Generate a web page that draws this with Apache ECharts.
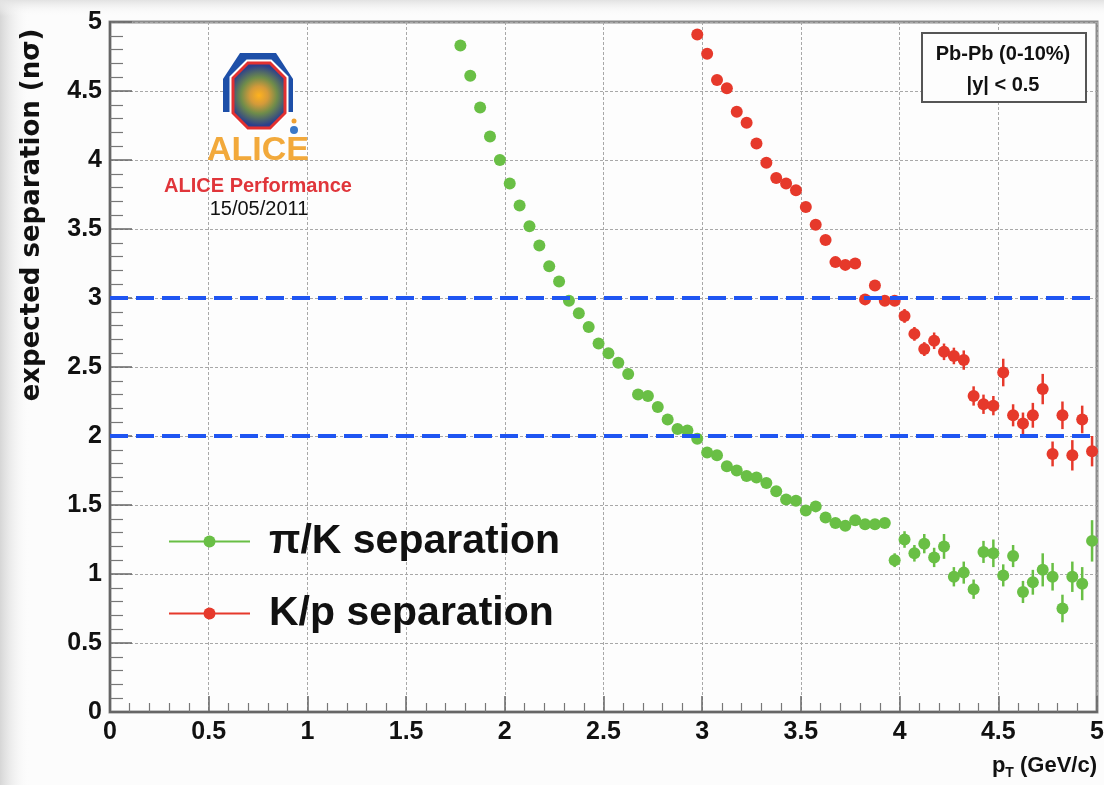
<!DOCTYPE html>
<html>
<head>
<meta charset="utf-8">
<title>expected separation</title>
<script src="https://cdn.jsdelivr.net/npm/echarts@6.0.0/dist/echarts.min.js"></script>
<style>
html, body { margin: 0; padding: 0; background: #fcfcfc; }
#chart { width: 1104px; height: 785px; }
</style>
</head>
<body>
<div id="chart"></div>
<script>
// pi/K separation (green)
var piK_pt = [1.775, 1.825, 1.875, 1.925, 1.975, 2.025, 2.075, 2.125, 2.175, 2.225,
    2.275, 2.325, 2.375, 2.425, 2.475, 2.525, 2.575, 2.625, 2.675, 2.725,
    2.775, 2.825, 2.875, 2.925, 2.975, 3.025, 3.075, 3.125, 3.175, 3.225,
    3.275, 3.325, 3.375, 3.425, 3.475, 3.525, 3.575, 3.625, 3.675, 3.725,
    3.775, 3.825, 3.875, 3.925, 3.975, 4.025, 4.075, 4.125, 4.175, 4.225,
    4.275, 4.325, 4.375, 4.425, 4.475, 4.525, 4.575, 4.625, 4.675, 4.725,
    4.775, 4.825, 4.875, 4.925, 4.975];
var piK_sep = [4.83, 4.61, 4.38, 4.17, 4.00, 3.83, 3.67, 3.52, 3.38, 3.23,
    3.12, 2.98, 2.89, 2.79, 2.67, 2.60, 2.53, 2.45, 2.30, 2.29,
    2.21, 2.12, 2.05, 2.04, 1.98, 1.88, 1.86, 1.78, 1.75, 1.71,
    1.70, 1.66, 1.60, 1.54, 1.53, 1.46, 1.49, 1.41, 1.37, 1.35,
    1.39, 1.36, 1.36, 1.37, 1.10, 1.25, 1.15, 1.22, 1.12, 1.20,
    0.98, 1.01, 0.89, 1.16, 1.15, 0.99, 1.13, 0.87, 0.94, 1.03,
    0.98, 0.75, 0.98, 0.93, 1.24];
var piK_err = [0.02, 0.02, 0.02, 0.02, 0.02, 0.02, 0.02, 0.02, 0.02, 0.02,
    0.02, 0.02, 0.02, 0.02, 0.02, 0.02, 0.02, 0.02, 0.02, 0.02,
    0.02, 0.02, 0.02, 0.02, 0.02, 0.02, 0.02, 0.02, 0.02, 0.02,
    0.03, 0.03, 0.03, 0.03, 0.03, 0.03, 0.03, 0.03, 0.03, 0.03,
    0.03, 0.03, 0.03, 0.03, 0.05, 0.06, 0.06, 0.07, 0.07, 0.09,
    0.07, 0.08, 0.07, 0.08, 0.10, 0.08, 0.08, 0.08, 0.09, 0.12,
    0.10, 0.10, 0.11, 0.12, 0.15];

// K/p separation (red)
var Kp_pt = [2.975, 3.025, 3.075, 3.125, 3.175, 3.225, 3.275, 3.325, 3.375, 3.425,
    3.475, 3.525, 3.575, 3.625, 3.675, 3.725, 3.775, 3.825, 3.875, 3.925,
    3.975, 4.025, 4.075, 4.125, 4.175, 4.225, 4.275, 4.325, 4.375, 4.425,
    4.475, 4.525, 4.575, 4.625, 4.675, 4.725, 4.775, 4.825, 4.875, 4.925,
    4.975];
var Kp_sep = [4.91, 4.77, 4.58, 4.52, 4.35, 4.27, 4.12, 3.98, 3.87, 3.83,
    3.78, 3.66, 3.53, 3.42, 3.26, 3.24, 3.25, 2.99, 3.09, 2.98,
    2.98, 2.87, 2.74, 2.63, 2.69, 2.61, 2.58, 2.55, 2.29, 2.23,
    2.22, 2.46, 2.15, 2.09, 2.15, 2.34, 1.87, 2.15, 1.86, 2.12,
    1.89];
var Kp_err = [0.02, 0.02, 0.02, 0.02, 0.02, 0.02, 0.02, 0.02, 0.02, 0.02,
    0.02, 0.02, 0.02, 0.02, 0.02, 0.02, 0.02, 0.03, 0.03, 0.03,
    0.03, 0.05, 0.05, 0.05, 0.06, 0.06, 0.06, 0.07, 0.07, 0.07,
    0.07, 0.10, 0.08, 0.08, 0.09, 0.11, 0.09, 0.10, 0.11, 0.10,
    0.11];

// dashed reference lines (n sigma)
var thresholds = [2, 3];

var GREEN = '#69bf45';
var RED = '#e6392b';
var BLUE = '#1f55f2';

function points(xs, ys) {
    return xs.map(function (x, i) { return [x, ys[i]]; });
}
function withErrors(xs, ys, es) {
    return xs.map(function (x, i) { return [x, ys[i], es[i]]; });
}
function errorBars(color) {
    return function (params, api) {
        var x = api.value(0), y = api.value(1), e = api.value(2);
        var lo = api.coord([x, y - e]);
        var hi = api.coord([x, y + e]);
        return {
            type: 'line',
            shape: { x1: lo[0], y1: lo[1], x2: hi[0], y2: hi[1] },
            style: { stroke: color, lineWidth: 2.5 }
        };
    };
}

var chart = echarts.init(document.getElementById('chart'));

var labelFont = { fontSize: 25, fontWeight: 'bold', fontFamily: 'Liberation Sans', color: '#111' };
var legendText = { fontSize: 41, fontWeight: 'bold', fontFamily: 'Liberation Sans', color: '#111', padding: [0, 0, 0, 14] };

var option = {
    backgroundColor: '#fcfcfc',
    animation: false,
    grid: {
        left: 110, right: 7, top: 22, bottom: 73,
        show: true, borderColor: '#8c8c8c', borderWidth: 3,
        backgroundColor: '#fdfdfd',
        outerBoundsMode: 'none'
    },
    xAxis: {
        type: 'value', min: 0, max: 5, interval: 0.5,
        axisLine: { show: true, onZero: false, lineStyle: { color: '#666', width: 2 } },
        axisTick: { show: true, inside: true, length: 16, lineStyle: { color: '#666', width: 1.5 } },
        minorTick: { show: true, splitNumber: 5, length: 9, lineStyle: { color: '#777', width: 1.2 } },
        splitLine: { show: true, lineStyle: { color: '#a8a8a8', width: 1, type: [3, 2] } },
        axisLabel: Object.assign({ margin: 8 }, labelFont)
    },
    yAxis: {
        type: 'value', min: 0, max: 5, interval: 0.5,
        axisLine: { show: true, onZero: false, lineStyle: { color: '#666', width: 2 } },
        axisTick: { show: true, inside: true, length: 22, lineStyle: { color: '#666', width: 1.5 } },
        minorTick: { show: true, splitNumber: 5, length: 13, lineStyle: { color: '#777', width: 1.2 } },
        splitLine: { show: true, lineStyle: { color: '#a8a8a8', width: 1, type: [3, 2] } },
        axisLabel: Object.assign({ margin: 8 }, labelFont)
    },
    legend: [
        {
            left: 168, top: 521, padding: 0, itemWidth: 81, itemHeight: 15,
            data: [{ name: 'π/K separation', lineStyle: { width: 2, opacity: 1, color: GREEN } }],
            textStyle: legendText,
            selectedMode: false
        },
        {
            left: 168, top: 593, padding: 0, itemWidth: 81, itemHeight: 15,
            data: [{ name: 'K/p separation', lineStyle: { width: 2, opacity: 1, color: RED } }],
            textStyle: legendText,
            selectedMode: false
        }
    ],
    series: [
        {
            name: 'thresholds', type: 'line', data: [], z: 1,
            markLine: {
                silent: true, symbol: ['none', 'none'],
                label: { show: false },
                lineStyle: { color: BLUE, width: 4, type: [18, 8], opacity: 1 },
                data: thresholds.map(function (v) { return { yAxis: v }; })
            }
        },
        {
            name: 'piK err', type: 'custom', z: 2,
            renderItem: errorBars(GREEN),
            encode: { x: 0, y: 1 },
            data: withErrors(piK_pt, piK_sep, piK_err)
        },
        {
            name: 'Kp err', type: 'custom', z: 2,
            renderItem: errorBars(RED),
            encode: { x: 0, y: 1 },
            data: withErrors(Kp_pt, Kp_sep, Kp_err)
        },
        {
            name: 'π/K separation', type: 'line', z: 3,
            symbol: 'circle', symbolSize: 12, showSymbol: true,
            itemStyle: { color: GREEN },
            lineStyle: { width: 0, opacity: 0 },
            emphasis: { disabled: true },
            data: points(piK_pt, piK_sep)
        },
        {
            name: 'K/p separation', type: 'line', z: 3,
            symbol: 'circle', symbolSize: 12, showSymbol: true,
            itemStyle: { color: RED },
            lineStyle: { width: 0, opacity: 0 },
            emphasis: { disabled: true },
            data: points(Kp_pt, Kp_sep)
        }
    ],
    graphic: [
        // soft shadow at the left and top edge of the canvas
        {
            type: 'rect', left: 0, top: 0, silent: true, z: -1,
            shape: { width: 30, height: 785 },
            style: { fill: new echarts.graphic.LinearGradient(0, 0, 1, 0, [
                { offset: 0, color: '#d6d6d6' }, { offset: 1, color: 'rgba(252,252,252,0)' }]) }
        },
        {
            type: 'rect', left: 0, top: 0, silent: true, z: -1,
            shape: { width: 1104, height: 16 },
            style: { fill: new echarts.graphic.LinearGradient(0, 0, 0, 1, [
                { offset: 0, color: '#e2e2e2' }, { offset: 1, color: 'rgba(252,252,252,0)' }]) }
        },
        // y axis title
        {
            type: 'text', x: 32, y: 215, rotation: Math.PI / 2, z: 10,
            style: {
                text: 'expected separation (nσ)', fill: '#111',
                font: 'bold 26px "DejaVu Sans"', align: 'center', verticalAlign: 'middle'
            }
        },
        // x axis title
        {
            type: 'text', x: 1097, y: 766, z: 10,
            style: {
                text: '{p|p}{s|T}{p| (GeV/c)}', align: 'right', verticalAlign: 'middle',
                rich: {
                    p: { fontSize: 22, fontWeight: 'bold', fontFamily: 'Liberation Sans', fill: '#111', color: '#111' },
                    s: { fontSize: 14, fontWeight: 'bold', fontFamily: 'Liberation Sans', fill: '#111', color: '#111', padding: [14, 0, 0, 0] }
                }
            }
        },
        // Pb-Pb info box
        {
            type: 'rect', left: 921, top: 32, z: 10,
            shape: { width: 164, height: 69 },
            style: { fill: '#fdfdfd', stroke: '#555', lineWidth: 2 }
        },
        {
            type: 'text', x: 1003, y: 54, z: 11,
            style: { text: 'Pb-Pb (0-10%)', font: 'bold 20px "Liberation Sans"', fill: '#111', align: 'center', verticalAlign: 'middle' }
        },
        {
            type: 'text', x: 1003, y: 85, z: 11,
            style: { text: '|y| < 0.5', font: 'bold 20px "Liberation Sans"', fill: '#111', align: 'center', verticalAlign: 'middle' }
        },
        // ALICE logo
        {
            type: 'polygon', z: 10,
            shape: { points: [[240, 53], [276, 53], [293, 79], [293, 112], [223, 112], [223, 79]] },
            style: { fill: '#1d4fa8' }
        },
        {
            type: 'polygon', z: 11,
            shape: { points: [[248, 63], [270, 63], [285, 78], [285, 113], [270, 128], [248, 128], [233, 113], [233, 78]] },
            style: { fill: 'none', stroke: '#ffffff', lineWidth: 7 }
        },
        {
            type: 'polygon', z: 12,
            shape: { points: [[248, 63], [270, 63], [285, 78], [285, 113], [270, 128], [248, 128], [233, 113], [233, 78]] },
            style: {
                fill: new echarts.graphic.RadialGradient(0.5, 0.5, 0.55, [
                    { offset: 0, color: '#ffb21e' }, { offset: 0.3, color: '#d49a3a' },
                    { offset: 0.6, color: '#6f8c4a' }, { offset: 1, color: '#2b3f8c' }]),
                stroke: '#e23030', lineWidth: 3
            }
        },
        {
            type: 'circle', z: 12, shape: { cx: 294, cy: 130, r: 4 },
            style: { fill: '#3a78c8' }
        },
        {
            type: 'circle', z: 12, shape: { cx: 294, cy: 121, r: 2.5 },
            style: { fill: '#f0a030' }
        },
        {
            type: 'text', x: 258, y: 151, z: 12,
            style: { text: 'ALICE', font: 'bold 34px "Liberation Sans"', fill: '#f2a93b', align: 'center', verticalAlign: 'middle' }
        },
        {
            type: 'text', x: 258, y: 186, z: 12,
            style: { text: 'ALICE Performance', font: 'bold 20px "Liberation Sans"', fill: '#e0353a', align: 'center', verticalAlign: 'middle' }
        },
        {
            type: 'text', x: 259, y: 209, z: 12,
            style: { text: '15/05/2011', font: '20px "Liberation Sans"', fill: '#111', align: 'center', verticalAlign: 'middle' }
        }
    ]
};

chart.setOption(option);
</script>
</body>
</html>
